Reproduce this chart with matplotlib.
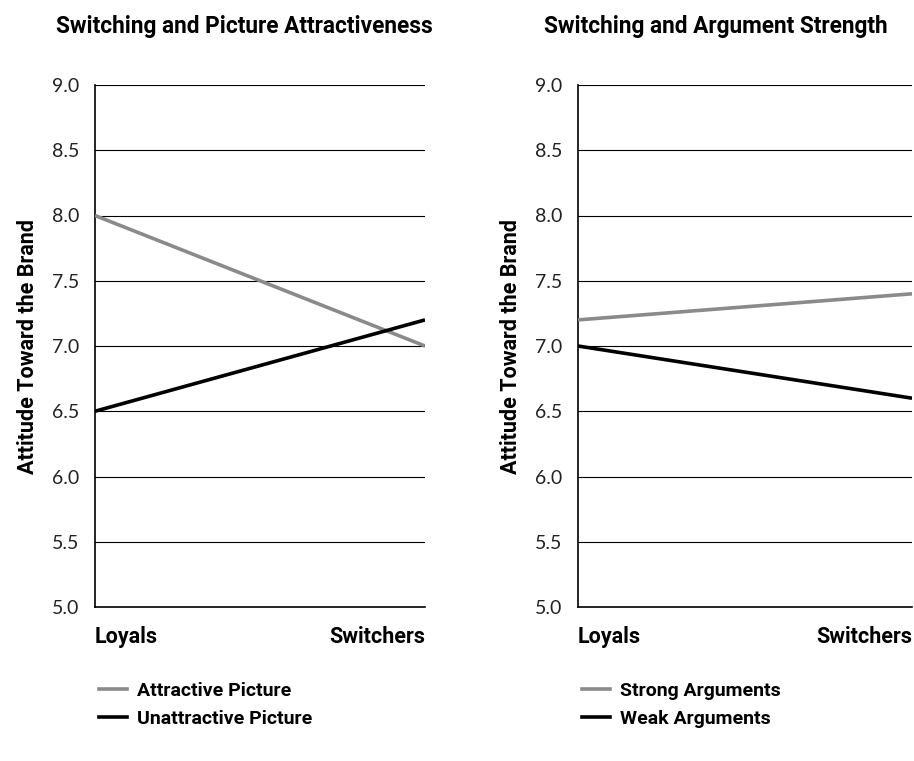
import matplotlib.pyplot as plt
from matplotlib.lines import Line2D

groups = ["Loyals", "Switchers"]

picture_title = "Switching and Picture Attractiveness"
picture_labels = ["Attractive Picture", "Unattractive Picture"]
attractive = [8.0, 7.0]
unattractive = [6.5, 7.2]

argument_title = "Switching and Argument Strength"
argument_labels = ["Strong Arguments", "Weak Arguments"]
strong = [7.2, 7.4]
weak = [7.0, 6.6]

yticks = [5.0, 5.5, 6.0, 6.5, 7.0, 7.5, 8.0, 8.5, 9.0]

BOLD = dict(family=["Roboto", "DejaVu Sans"], weight="bold")
TICK_FONT = ["Lato", "DejaVu Sans"]
GRAY = "#8a8a8a"
LW = 2.6

fig = plt.figure(figsize=(9.14, 7.61), dpi=100)


def panel(rect, title, title_x, series, labels):
    ax = fig.add_axes(rect)
    x = [0, 1]
    for vals, col in zip(series, [GRAY, "black"]):
        ax.plot(x, vals, color=col, lw=LW, solid_capstyle="butt", zorder=3)
    ax.set_xlim(0, 1)
    ax.set_ylim(5.0, 9.0)
    ax.set_yticks(yticks)
    ax.set_yticklabels([f"{v:.1f}" for v in yticks], family=TICK_FONT,
                       fontsize=14, color="#222222")
    ax.tick_params(axis="y", length=0, pad=11.5)
    ax.set_xticks([])
    for v in yticks[1:]:
        ax.axhline(v, color="black", lw=0.8, zorder=1)
    for s in ["top", "right"]:
        ax.spines[s].set_visible(False)
    ax.spines["left"].set_linewidth(1.2)
    ax.spines["bottom"].set_linewidth(1.2)
    ax.set_ylabel("Attitude Toward the Brand", fontsize=15.5, labelpad=9, **BOLD)
    ax.text(0, -0.058, groups[0], transform=ax.transAxes, ha="left", va="center",
            fontsize=15.5, **BOLD)
    ax.text(1, -0.058, groups[1], transform=ax.transAxes, ha="right", va="center",
            fontsize=15.5, **BOLD)
    fig.text(title_x, 1 - 26 / 761, title, ha="center", va="center",
             fontsize=16.3, **BOLD)
    handles = [Line2D([0], [0], color=GRAY, lw=LW),
               Line2D([0], [0], color="black", lw=LW)]
    ax.legend(handles, labels, loc="upper left",
              bbox_to_anchor=(-0.04, -0.11), frameon=False,
              handlelength=1.45, handletextpad=0.5, labelspacing=0.52,
              prop=dict(family=BOLD["family"], weight="bold", size=14))
    return ax


panel([95 / 914, 1 - 607 / 761, 330 / 914, 522 / 761], picture_title, 244 / 914,
      [attractive, unattractive], picture_labels)
panel([578 / 914, 1 - 607 / 761, 334 / 914, 522 / 761], argument_title, 716 / 914,
      [strong, weak], argument_labels)

fig.savefig("out.png", dpi=100, facecolor="white")
